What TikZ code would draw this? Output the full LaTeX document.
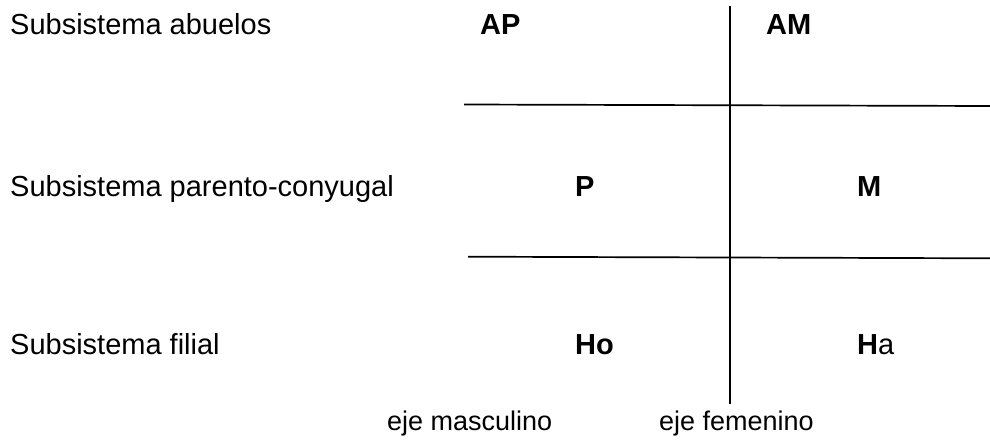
\documentclass[tikz,border=0pt]{standalone}
\usepackage{fontspec}
\setmainfont{Liberation Sans}
\begin{document}
\begin{tikzpicture}[x=1pt,y=-1pt,
  lbl/.style={inner sep=0pt,anchor=base west,font=\fontsize{29}{34}\selectfont},
  axislbl/.style={inner sep=0pt,anchor=base west,font=\fontsize{27}{32}\selectfont},
  key/.style={inner sep=0pt,anchor=base west,font=\fontsize{29}{34}\selectfont\bfseries},
  rule/.style={line width=1.7pt,black}]
\useasboundingbox (0,0) rectangle (990,441);
% row labels
\node[lbl] (r1) at (10,35) {Subsistema abuelos};
\node[lbl] (r2) at (10,196) {Subsistema parento-conyugal};
\node[lbl] (r3) at (10,354) {Subsistema filial};
% cells
\node[key] (ap) at (480,35) {AP};
\node[key] (am) at (766,35) {AM};
\node[key] (p) at (575,196) {P};
\node[key] (m) at (857,196) {M};
\node[key] (ho) at (575,354) {Ho};
\node[key] (ha) at (857,354) {H\mdseries a};
% axis labels
\node[axislbl] (em) at (387,430) {eje masculino};
\node[axislbl] (ef) at (659,430) {eje femenino};
% lines
\coordinate (vt) at (730,6);
\coordinate (vb) at (730,404);
\coordinate (h1l) at (464,104.5);
\coordinate (h1r) at (990,106);
\coordinate (h2l) at (468,256.7);
\coordinate (h2r) at (990,258.3);
\draw[rule] (vt) -- (vb);
\draw[rule] (h1l) -- (h1r);
\draw[rule] (h2l) -- (h2r);
\end{tikzpicture}
\end{document}
